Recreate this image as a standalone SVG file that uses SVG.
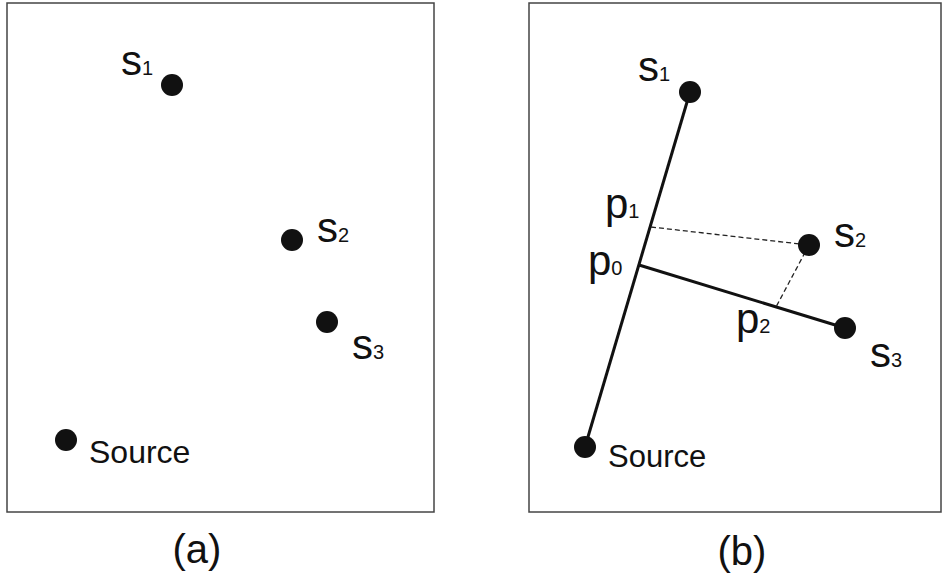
<svg xmlns="http://www.w3.org/2000/svg" width="943" height="578" viewBox="0 0 943 578">
<style>
  text { font-family: "Liberation Sans", Arial, sans-serif; fill: #111; }
  .lbl { font-size: 42px; }
  .sub { font-size: 20px; }
  .src { font-size: 32px; }
  .cap { font-size: 40px; text-anchor: middle; }
  .dot { fill: #111; }
  .frame { fill: none; stroke: #444; stroke-width: 1.5; }
  .solid { stroke: #111; stroke-width: 3; fill: none; }
  .dash { stroke: #222; stroke-width: 1.3; stroke-dasharray: 5 3; fill: none; }
</style>
<rect width="943" height="578" fill="#fff"/>

<g id="panel-a">
  <rect class="frame" x="7" y="3" width="427" height="509"/>
  <g id="a-s1"><circle class="dot" cx="172" cy="85" r="11"/><text class="lbl" x="121" y="75">s<tspan class="sub">1</tspan></text></g>
  <g id="a-s2"><circle class="dot" cx="292" cy="240" r="11"/><text class="lbl" x="317" y="242">s<tspan class="sub">2</tspan></text></g>
  <g id="a-s3"><circle class="dot" cx="327" cy="322" r="11"/><text class="lbl" x="352" y="359">s<tspan class="sub">3</tspan></text></g>
  <g id="a-source"><circle class="dot" cx="66" cy="440" r="11"/><text class="src" x="89" y="463">Source</text></g>
  <text class="cap" x="197" y="563">(a)</text>
</g>

<g id="panel-b">
  <rect class="frame" x="529" y="3" width="412" height="509"/>
  <g id="connectors">
    <line class="solid" x1="585" y1="447" x2="690" y2="92"/>
    <line class="solid" x1="639" y1="265" x2="845" y2="328"/>
    <line class="dash" x1="651" y1="227" x2="809" y2="245"/>
    <line class="dash" x1="809" y1="245" x2="776" y2="307"/>
  </g>
  <g id="b-s1"><circle class="dot" cx="690" cy="92" r="11"/><text class="lbl" x="638" y="81">s<tspan class="sub">1</tspan></text></g>
  <g id="b-s2"><circle class="dot" cx="809" cy="245" r="11"/><text class="lbl" x="834" y="247">s<tspan class="sub">2</tspan></text></g>
  <g id="b-s3"><circle class="dot" cx="845" cy="328" r="11"/><text class="lbl" x="870" y="367">s<tspan class="sub">3</tspan></text></g>
  <g id="b-source"><circle class="dot" cx="585" cy="447" r="11"/><text class="src" x="608" y="467" style="font-size:31px">Source</text></g>
  <g id="b-p1"><text class="lbl" x="605" y="218">p<tspan class="sub">1</tspan></text></g>
  <g id="b-p0"><text class="lbl" x="588" y="275">p<tspan class="sub">0</tspan></text></g>
  <g id="b-p2"><text class="lbl" x="736" y="333">p<tspan class="sub">2</tspan></text></g>
  <text class="cap" x="742" y="565">(b)</text>
</g>
</svg>
